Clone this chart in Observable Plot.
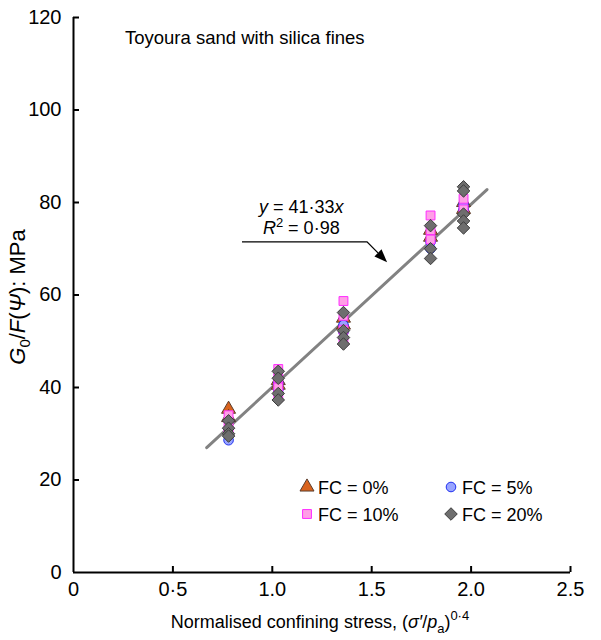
<!DOCTYPE html>
<html><head><meta charset="utf-8">
<script src="https://cdn.jsdelivr.net/npm/d3@7"></script>
<script src="https://cdn.jsdelivr.net/npm/@observablehq/plot@0.6"></script>
<style>
body{margin:0;background:#fff;}
#chart svg text{font-family:"Liberation Sans",Arial,sans-serif;}
</style>
</head><body><div id="chart"></div>
<script>
// ---- data ----
const stressLevels = [0.78, 1.03, 1.358, 1.796, 1.962];           // (σ'/pa)^0.4
const fc0Values  = [[35.3, 33.5], [40.5, 41.5], [53.5, 55.0], [72.5, 74.0], [78.5, 80.0]];
const fc5Values  = [[28.6, 29.8], [39.5, 41.0], [52.0, 53.5], [70.0, 71.5], [78.5, 79.5]];
const fc10Values = [[34.0, 32.0, 30.5], [44.0, 42.0, 40.0, 38.0], [58.7, 55.5, 52.5, 50.0], [77.2, 74.0, 72.0], [80.8, 78.5]];
const fc20Values = [[32.8, 31.2, 30.0, 29.5], [43.5, 42.0, 38.7, 37.3], [56.2, 52.3, 50.8, 49.4], [75.0, 70.0, 67.9], [83.4, 82.5, 77.5, 76.0, 74.5]];
const trendX = [0.67, 2.08];
const trendY = [27.0, 82.8];
const xTicks = [0, 0.5, 1, 1.5, 2, 2.5];
const xTickLabels = ["0", "0·5", "1.0", "1.5", "2.0", "2.5"];
const yTicks = [0, 20, 40, 60, 80, 100, 120];
const seriesNames = ["FC = 0%", "FC = 5%", "FC = 10%", "FC = 20%"];
const arrowX = [0.85, 1.479, 1.58];
const arrowY = [71.4, 71.4, 67.0];
const labelPos = {x: 0.935, y1: 77.7, y2: 73.0};

// ---- helpers ----
const rows = vals => vals.flatMap((ys, i) => ys.map(y => ({x: stressLevels[i], y})));
const diamond = {draw(ctx, size) { const s = Math.sqrt(size / 2); ctx.moveTo(0, -s); ctx.lineTo(s, 0); ctx.lineTo(0, s); ctx.lineTo(-s, 0); ctx.closePath(); }};
const styles = [
  {symbol: "triangle", fill: "#d9631d", stroke: "#5a3c2c", r: 5.2},
  {symbol: "circle",   fill: "#98a4ff", stroke: "#2030f0", r: 4.8},
  {symbol: "square",   fill: "#ff9fe6", stroke: "#ff2cff", r: 5.0},
  {symbol: diamond,    fill: "#6e6e6e", stroke: "#3c3c3c", r: 5.0}
];
const allSeries = [fc0Values, fc5Values, fc10Values, fc20Values];

const plot = Plot.plot({
  width: 601, height: 640,
  marginLeft: 73, marginRight: 31, marginTop: 17, marginBottom: 68,
  x: {domain: [0, 2.5]},
  y: {domain: [0, 120]},
  style: {fontFamily: "Liberation Sans, Arial, sans-serif", fontSize: "20px", color: "#000", background: "#fff"},
  marks: [
    Plot.axisX(xTicks, {tickSize: 0, tickPadding: 9, fontSize: 20, label: null, tickFormat: d => xTickLabels[xTicks.indexOf(d)]}),
    Plot.axisY(yTicks, {tickSize: 0, tickPadding: 12, fontSize: 20, label: null}),
    Plot.ruleX(xTicks.slice(1), {y1: 0, y2: 0, insetTop: -6, stroke: "#000", strokeWidth: 2}),
    Plot.ruleY(yTicks.slice(1), {x1: 0, x2: 0, insetRight: -6, stroke: "#000", strokeWidth: 2}),
    Plot.ruleX([0], {stroke: "#000", strokeWidth: 2}),
    Plot.ruleY([0], {stroke: "#000", strokeWidth: 2}),
    Plot.line(trendX.map((x, i) => ({x, y: trendY[i]})), {x: "x", y: "y", stroke: "#828282", strokeWidth: 3}),
    ...allSeries.map((vals, k) => Plot.dot(rows(vals), {x: "x", y: "y", symbol: styles[k].symbol, r: styles[k].r, fill: styles[k].fill, stroke: styles[k].stroke, strokeWidth: 1}))
  ]
});
document.getElementById("chart").appendChild(plot);

const svg = d3.select(plot);
const sx = plot.scale("x"), sy = plot.scale("y");
const font = "Liberation Sans, Arial, sans-serif";
const addText = (x, y, size, anchor = "start") => svg.append("text").attr("x", x).attr("y", y)
  .attr("font-size", size).attr("font-family", font).attr("fill", "#000").attr("text-anchor", anchor);

// title
addText(125, 44, 18.5).text("Toyoura sand with silica fines");

// x axis title
const xt = addText(320, 628, 18, "middle");
xt.append("tspan").text("Normalised confining stress, (");
xt.append("tspan").attr("font-style", "italic").text("σ′");
xt.append("tspan").text("/");
xt.append("tspan").attr("font-style", "italic").text("p");
xt.append("tspan").attr("font-size", 13).attr("dy", 5).text("a");
xt.append("tspan").attr("dy", -5).text(")");
xt.append("tspan").attr("font-size", 13).attr("dy", -8).text("0·4");

// y axis title
const yt = svg.append("text").attr("transform", "translate(25,297) rotate(-90)").attr("text-anchor", "middle")
  .attr("font-size", 22).attr("font-family", font).attr("fill", "#000");
yt.append("tspan").attr("font-style", "italic").text("G");
yt.append("tspan").attr("font-size", 15).attr("dy", 5).text("0");
yt.append("tspan").attr("dy", -5).text("/");
yt.append("tspan").attr("font-style", "italic").text("F");
yt.append("tspan").text("(");
yt.append("tspan").attr("font-style", "italic").text("Ψ");
yt.append("tspan").text("): MPa");

// equation annotation
const eq1 = addText(sx.apply(labelPos.x), sy.apply(labelPos.y1), 18);
eq1.append("tspan").attr("font-style", "italic").text("y");
eq1.append("tspan").text(" = 41·33");
eq1.append("tspan").attr("font-style", "italic").text("x");
const eq2 = addText(sx.apply(labelPos.x) + 4, sy.apply(labelPos.y2), 18);
eq2.append("tspan").attr("font-style", "italic").text("R");
eq2.append("tspan").attr("font-size", 13).attr("dy", -7).text("2");
eq2.append("tspan").attr("dy", 7).text(" = 0·98");

// arrow
const pts = arrowX.map((x, i) => [sx.apply(x), sy.apply(arrowY[i])]);
const tip = pts[pts.length - 1], prev = pts[pts.length - 2];
const ang = Math.atan2(tip[1] - prev[1], tip[0] - prev[0]);
const L = 13, W = 5;
const base = [tip[0] - L * Math.cos(ang), tip[1] - L * Math.sin(ang)];
svg.append("path").attr("d", d3.line()([...pts.slice(0, -1), base])).attr("fill", "none").attr("stroke", "#000").attr("stroke-width", 1.3);
svg.append("path").attr("d", `M${tip[0]},${tip[1]} L${base[0] + W * Math.sin(ang)},${base[1] - W * Math.cos(ang)} L${base[0] - W * Math.sin(ang)},${base[1] + W * Math.cos(ang)} Z`).attr("fill", "#000");

// legend
const legPos = [[307, 487], [451, 487], [307, 514], [451, 514]];
styles.forEach((s, k) => {
  const [lx, ly] = legPos[k];
  const sym = typeof s.symbol === "string" ? {triangle: d3.symbolTriangle, circle: d3.symbolCircle, square: d3.symbolSquare}[s.symbol] : s.symbol;
  svg.append("path").attr("transform", `translate(${lx},${ly})`).attr("d", d3.symbol(sym, Math.PI * s.r * s.r)())
    .attr("fill", s.fill).attr("stroke", s.stroke).attr("stroke-width", 1);
  addText(lx + 11, ly + 6.5, 18).text(seriesNames[k]);
});
</script>
</body></html>
